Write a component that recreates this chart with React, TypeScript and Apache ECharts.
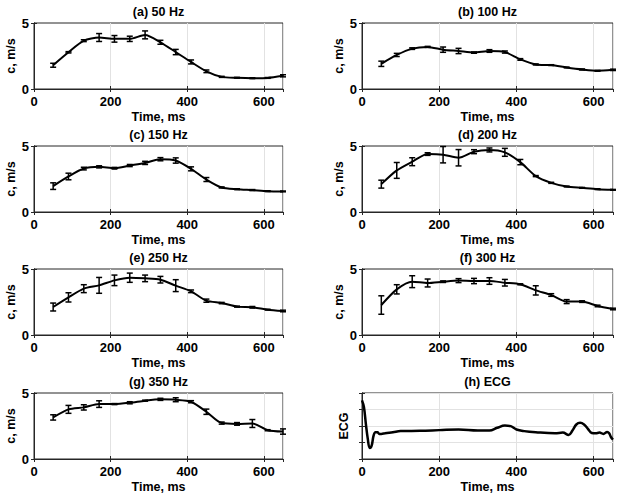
import React, { useEffect, useRef } from "react";
import * as echarts from "echarts";

const timeMs = [50, 90, 130, 170, 210, 250, 290, 330, 370, 410, 450, 490, 530, 570, 610, 650];

const c50 = [1.8, 2.78, 3.66, 3.9, 3.8, 3.8, 4.1, 3.54, 2.8, 2.05, 1.34, 0.92, 0.85, 0.82, 0.84, 1.0];
const e50 = [0.15, 0.05, 0.07, 0.3, 0.25, 0.2, 0.3, 0.15, 0.2, 0.15, 0.1, 0.04, 0.03, 0.03, 0.03, 0.08];

const c100 = [1.91, 2.58, 3.06, 3.19, 2.98, 2.88, 2.76, 2.88, 2.8, 2.24, 1.86, 1.81, 1.63, 1.48, 1.38, 1.45];
const e100 = [0.2, 0.12, 0.06, 0.04, 0.2, 0.2, 0.05, 0.1, 0.08, 0.06, 0.04, 0.03, 0.03, 0.04, 0.03, 0.05];

const c150 = [1.96, 2.69, 3.29, 3.42, 3.32, 3.52, 3.72, 4.0, 3.9, 3.27, 2.46, 1.86, 1.73, 1.66, 1.58, 1.56];
const e150 = [0.25, 0.25, 0.1, 0.08, 0.06, 0.08, 0.12, 0.12, 0.2, 0.15, 0.15, 0.04, 0.03, 0.04, 0.03, 0.03];

const c200 = [2.11, 3.15, 3.81, 4.39, 4.34, 4.11, 4.57, 4.7, 4.52, 3.78, 2.72, 2.21, 1.93, 1.83, 1.73, 1.68];
const e200 = [0.3, 0.6, 0.3, 0.1, 0.62, 0.62, 0.15, 0.15, 0.3, 0.2, 0.04, 0.04, 0.03, 0.03, 0.03, 0.03];

const c250 = [2.12, 2.85, 3.51, 3.76, 4.14, 4.34, 4.29, 4.19, 3.74, 3.31, 2.6, 2.42, 2.15, 2.1, 1.92, 1.82];
const e250 = [0.3, 0.35, 0.3, 0.6, 0.4, 0.35, 0.25, 0.25, 0.45, 0.1, 0.12, 0.05, 0.04, 0.06, 0.03, 0.06];

const c300 = [2.27, 3.46, 4.04, 3.94, 4.04, 4.12, 4.09, 4.09, 3.96, 3.84, 3.38, 3.03, 2.53, 2.53, 2.2, 1.97];
const e300 = [0.7, 0.35, 0.45, 0.3, 0.06, 0.15, 0.2, 0.25, 0.25, 0.04, 0.35, 0.1, 0.15, 0.06, 0.06, 0.06];

const c350 = [3.15, 3.76, 3.91, 4.16, 4.16, 4.26, 4.42, 4.52, 4.49, 4.34, 3.58, 2.72, 2.66, 2.69, 2.18, 2.08];
const e350 = [0.2, 0.3, 0.2, 0.25, 0.04, 0.08, 0.04, 0.08, 0.15, 0.08, 0.2, 0.08, 0.1, 0.3, 0.04, 0.2];

const ecgTime = [0, 5, 10, 15, 20, 25, 30, 35, 40, 45, 50, 60, 80, 100, 150, 200, 250, 300, 330, 350, 370, 385, 400, 420, 450, 500, 520, 535, 545, 555, 565, 575, 585, 595, 605, 615, 625, 635, 640, 645, 650];
const ecgValue = [3.55, 3.15, 2.13, 1.22, 0.67, 0.81, 1.42, 1.62, 1.62, 1.52, 1.52, 1.56, 1.62, 1.69, 1.71, 1.75, 1.79, 1.73, 1.73, 1.89, 2.03, 1.99, 1.79, 1.69, 1.62, 1.56, 1.6, 1.46, 1.73, 2.09, 2.19, 2.09, 1.83, 1.58, 1.56, 1.6, 1.52, 1.64, 1.56, 1.32, 1.18];

const xTicks = [0, 200, 400, 600];
const yTicks = [0, 5];

const panels = [
  { title: "(a) 50 Hz", c: c50, e: e50 },
  { title: "(b) 100 Hz", c: c100, e: e100 },
  { title: "(c) 150 Hz", c: c150, e: e150 },
  { title: "(d) 200 Hz", c: c200, e: e200 },
  { title: "(e) 250 Hz", c: c250, e: e250 },
  { title: "(f) 300 Hz", c: c300, e: e300 },
  { title: "(g) 350 Hz", c: c350, e: e350 },
  { title: "(h) ECG", c: null as number[] | null, e: null as number[] | null },
];

const FONT = "'Liberation Sans', Arial, Helvetica, sans-serif";
const AX = "#262626";
const GRIDC = "#e2e2e2";

export default function App() {
  const ref = useRef<HTMLDivElement>(null);
  useEffect(() => {
    if (!ref.current) return;
    const chart = echarts.init(ref.current, undefined, { renderer: "svg" });
    const colLeft = [34, 362];
    const colWidth = [249, 251];
    const rowTop = [23, 146, 269, 393];
    const H = 66;

    const grids: any[] = [];
    const xAxes: any[] = [];
    const yAxes: any[] = [];
    const series: any[] = [];
    const graphics: any[] = [];
    const nameStyle = { fontFamily: FONT, fontWeight: "bold", fontSize: 12.5, color: "#000" };
    const tickStyle = { show: true, inside: true, length: 3, lineStyle: { color: AX } };

    panels.forEach((p, i) => {
      const col = i % 2;
      const row = Math.floor(i / 2);
      const left = colLeft[col];
      const width = colWidth[col];
      const top = rowTop[row];
      const isEcg = p.c === null;
      grids.push({
        left, top, width, height: H,
        show: true, borderColor: AX, borderWidth: 1, backgroundColor: "#fff",
      });
      graphics.push({
        type: "text",
        x: left + width / 2,
        y: top - 11,
        style: {
          text: p.title, fill: "#000", font: `bold 12.5px ${FONT}`,
          textAlign: "center", textVerticalAlign: "middle",
        },
      });
      // bottom x axis
      xAxes.push({
        type: "value", gridIndex: i, min: 0, max: 650, interval: 200, position: "bottom",
        name: "Time, ms", nameLocation: "middle", nameGap: 21,
        nameTextStyle: nameStyle,
        axisLine: { show: true, lineStyle: { color: AX, width: 1 } },
        axisTick: tickStyle,
        axisLabel: {
          fontFamily: FONT, fontWeight: "bold", fontSize: 13, color: "#000", margin: 6,
          showMaxLabel: false,
          formatter: (v: number) => (xTicks.includes(v) ? String(v) : ""),
        },
        splitLine: { show: true, lineStyle: { color: GRIDC, width: 1 } },
      });
      // top x axis (ticks only)
      xAxes.push({
        type: "value", gridIndex: i, min: 0, max: 650, interval: 200, position: "top",
        axisLine: { show: true, lineStyle: { color: AX, width: 1 } },
        axisTick: tickStyle,
        axisLabel: { show: false },
        splitLine: { show: false },
      });
      // left y axis
      yAxes.push({
        type: "value", gridIndex: i, position: "left",
        min: 0, max: isEcg ? 4 : 5, interval: isEcg ? 1 : 5,
        name: isEcg ? "ECG" : "c, m/s", nameLocation: "middle", nameGap: isEcg ? 12 : 17, nameRotate: 90,
        nameTextStyle: nameStyle,
        axisLine: { show: true, lineStyle: { color: AX, width: 1 } },
        axisTick: tickStyle,
        axisLabel: {
          show: !isEcg, fontFamily: FONT, fontWeight: "bold", fontSize: 13, color: "#000", margin: 5,
          formatter: (v: number) => (yTicks.includes(v) ? String(v) : ""),
        },
        splitLine: { show: isEcg, lineStyle: { color: GRIDC, width: 1 } },
      });
      // right y axis (ticks only)
      yAxes.push({
        type: "value", gridIndex: i, position: "right",
        min: 0, max: isEcg ? 4 : 5, interval: isEcg ? 1 : 5,
        axisLine: { show: true, lineStyle: { color: AX, width: 1 } },
        axisTick: tickStyle,
        axisLabel: { show: false },
        splitLine: { show: false },
      });
      const xi = i * 2;
      const yi = i * 2;
      if (isEcg) {
        series.push({
          type: "line", xAxisIndex: xi, yAxisIndex: yi,
          data: ecgTime.map((t, k) => [t, ecgValue[k]]),
          smooth: 0.4, showSymbol: false, symbol: "none",
          lineStyle: { color: "#000", width: 2.5 },
        });
      } else {
        const cv = p.c as number[];
        const ev = p.e as number[];
        series.push({
          type: "line", xAxisIndex: xi, yAxisIndex: yi,
          data: timeMs.map((t, k) => [t, cv[k]]),
          smooth: 0.25, symbol: "none",
          lineStyle: { color: "#000", width: 2 },
        });
        series.push({
          type: "custom", xAxisIndex: xi, yAxisIndex: yi,
          data: timeMs.map((t, k) => [t, cv[k], ev[k]]),
          encode: { x: 0, y: 1 },
          clip: false,
          renderItem: (params: any, api: any) => {
            const x = api.value(0);
            const y = api.value(1);
            const e = api.value(2);
            const a = api.coord([x, y + e]);
            const b = api.coord([x, y - e]);
            const hw = 3;
            const st = { stroke: "#000", lineWidth: 1.5 };
            return {
              type: "group",
              children: [
                { type: "line", shape: { x1: a[0], y1: a[1], x2: b[0], y2: b[1] }, style: st },
                { type: "line", shape: { x1: a[0] - hw, y1: a[1], x2: a[0] + hw, y2: a[1] }, style: st },
                { type: "line", shape: { x1: b[0] - hw, y1: b[1], x2: b[0] + hw, y2: b[1] }, style: st },
              ],
            };
          },
        });
      }
    });

    chart.setOption({
      animation: false,
      backgroundColor: "#fff",
      grid: grids,
      xAxis: xAxes,
      yAxis: yAxes,
      series,
      graphic: graphics,
    });
    return () => chart.dispose();
  }, []);
  return (
    <div
      ref={ref}
      style={{ position: "fixed", left: 0, top: 0, width: 618, height: 497, background: "#fff" }}
    />
  );
}
